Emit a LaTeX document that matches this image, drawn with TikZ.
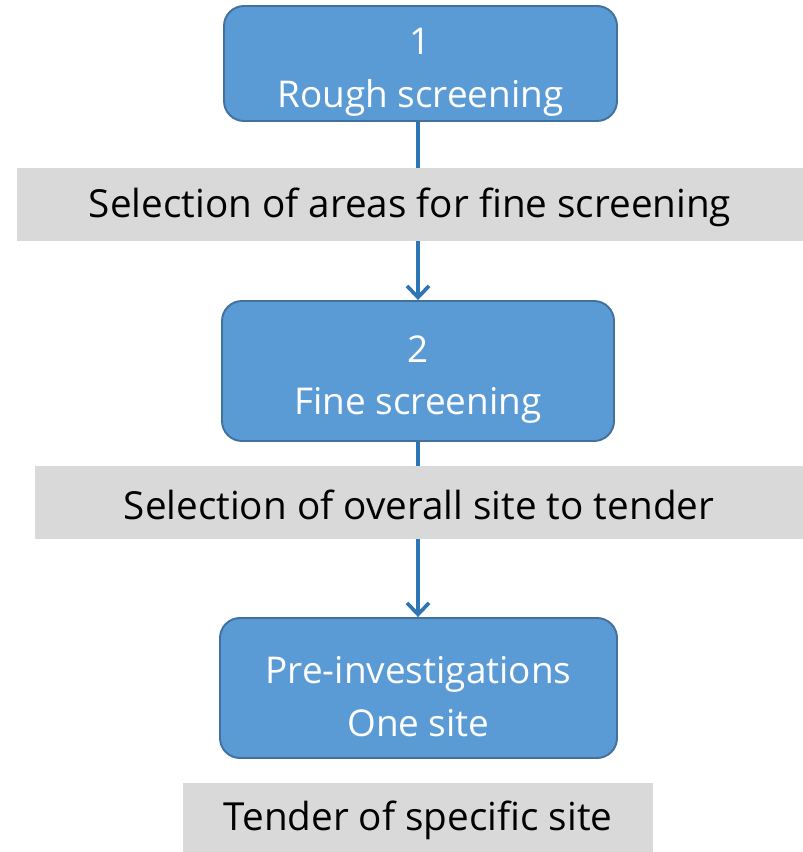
\documentclass[tikz,border=0pt]{standalone}
\usepackage{fontspec}
\setmainfont{Open Sans}
\usepackage{xcolor}
\definecolor{stepblue}{RGB}{91,155,213}
\definecolor{stepedge}{RGB}{65,113,156}
\definecolor{arrowblue}{RGB}{46,117,182}
\definecolor{notegray}{RGB}{217,217,217}
\usetikzlibrary{positioning}
\usetikzlibrary{arrows.meta}
\usetikzlibrary{calc}

\begin{document}
\begin{tikzpicture}
	\useasboundingbox (0,0) rectangle (16.06,-17.04);
	\begin{scope}[every node/.style={fill=stepblue,draw=stepedge,line width=1.1pt,
	              rounded corners=0.4cm,text=white,align=center,inner sep=0pt,
	              font=\fontsize{21}{30}\selectfont}]
	    \node[minimum width=7.86cm,minimum height=2.30cm] (rough) at (8.41,-1.27) {\rule{0pt}{25pt}1\\Rough screening};
	    \node[minimum width=7.84cm,minimum height=2.80cm] (fine) at (8.36,-7.42) {\rule{0pt}{25pt}2\\Fine screening};
	    \node[minimum width=7.94cm,minimum height=2.80cm] (pre) at (8.37,-13.76) {\rule{0pt}{25pt}Pre-investigations\\One site};
	\end{scope}

	\begin{scope}[>={Straight Barb[length=6.5pt,width=12.5pt]},
	              every edge/.style={draw=arrowblue,line width=2.1pt}]
    	\path [->] (rough.south -| fine.north) edge (fine.north);
    	\path [->] (fine.south) edge (pre.north -| fine.south);
	\end{scope}

	\begin{scope}[every node/.style={fill=notegray,inner sep=0pt,text=black,
	              text height=20pt,font=\fontsize{22}{26}\selectfont}]
	    \node[minimum width=15.72cm,minimum height=1.46cm] (areas) at (8.20,-4.09) {Selection of areas for fine screening};
	    \node[minimum width=15.36cm,minimum height=1.46cm] (overall) at (8.38,-10.05) {Selection of overall site to tender};
	    \node[minimum width=9.40cm,minimum height=1.38cm] (tender) at (8.36,-16.35) {Tender of specific site};
	\end{scope}
\end{tikzpicture}
\end{document}
